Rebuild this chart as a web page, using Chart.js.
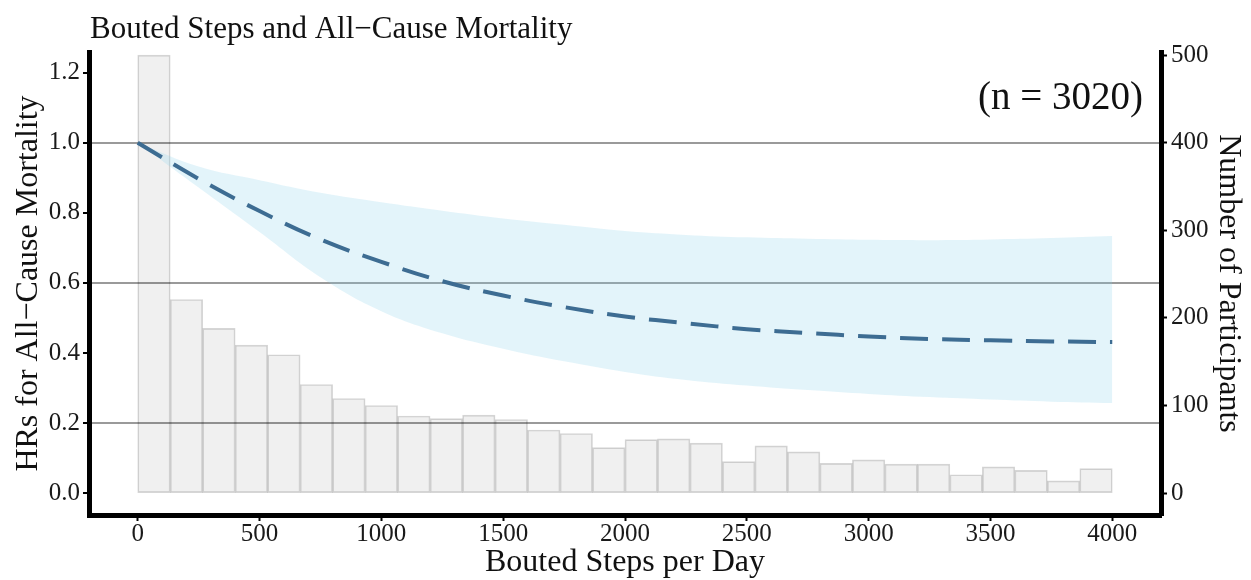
<!DOCTYPE html>
<html>
<head>
<meta charset="utf-8">
<script src="https://cdn.jsdelivr.net/npm/chart.js@4.4.1/dist/chart.umd.min.js"></script>
<style>
  html, body { margin: 0; padding: 0; background: #ffffff; }
  #wrap { width: 1251px; height: 580px; position: relative; }
</style>
</head>
<body>
<div id="wrap"><canvas id="chart"></canvas></div>
<script>
// Spline fit: hazard ratio with 95% CI by bouted steps per day
const steps    = [0, 250, 500, 750, 1000, 1250, 1500, 1750, 2000, 2250, 2500, 2750, 3000, 3250, 3500, 3750, 4000];
const hrFit    = [1.000, 0.897, 0.805, 0.724, 0.660, 0.605, 0.564, 0.531, 0.504, 0.485, 0.468, 0.457, 0.447, 0.440, 0.436, 0.433, 0.431];
const hrUpper  = [1.000, 0.932, 0.893, 0.857, 0.830, 0.806, 0.784, 0.766, 0.748, 0.737, 0.730, 0.726, 0.723, 0.722, 0.724, 0.728, 0.734];
const hrLower  = [1.000, 0.872, 0.745, 0.616, 0.519, 0.456, 0.412, 0.376, 0.346, 0.323, 0.307, 0.294, 0.283, 0.274, 0.267, 0.261, 0.257];

// Histogram of participants: 30 equal bins over 0–4000 steps/day
const histStart = 0;
const histEnd = 4000;
const binCounts = [500, 221, 188, 169, 158, 124, 108, 100, 88, 85, 89, 84,
                   72, 68, 52, 61, 62, 57, 36, 54, 47, 34, 38, 33, 33, 21, 30, 26, 14, 28];

// Axis ticks and labels
const stepTicks = [0, 500, 1000, 1500, 2000, 2500, 3000, 3500, 4000];
const hrTicks = [0, 0.2, 0.4, 0.6, 0.8, 1.0, 1.2];
const hrTickLabels = ['0.0', '0.2', '0.4', '0.6', '0.8', '1.0', '1.2'];
const hrGridValues = [0.2, 0.6, 1.0];
const countTicks = [0, 100, 200, 300, 400, 500];

const chartTitle = 'Bouted Steps and All\u2212Cause Mortality';
const sampleNote = '(n = 3020)';
const xTitle = 'Bouted Steps per Day';
const yTitle = 'HRs for All\u2212Cause Mortality';
const y2Title = 'Number of Participants';

const serif = "'Liberation Serif', 'Times New Roman', serif";

const binWidth = (histEnd - histStart) / binCounts.length;
const histPoints = binCounts.map((c, i) => ({ x: histStart + binWidth * (i + 0.5), y: c }));
const toXY = arr => steps.map((s, i) => ({ x: s, y: arr[i] }));

// Chart heading and sample-size note drawn above the plot
const headerText = {
  id: 'headerText',
  afterDraw(chart) {
    const { ctx, chartArea } = chart;
    ctx.save();
    ctx.fillStyle = '#111111';
    ctx.textBaseline = 'alphabetic';
    ctx.textAlign = 'left';
    ctx.font = '31px ' + serif;
    ctx.fillText(chartTitle, chartArea.left + 1, 38);
    ctx.textAlign = 'right';
    ctx.font = '39px ' + serif;
    ctx.fillText(sampleNote, chartArea.right - 18, 109);
    ctx.restore();
  }
};

const setTicks = values => axis => { axis.ticks = values.map(v => ({ value: v })); };

new Chart(document.getElementById('chart'), {
  data: {
    datasets: [
      {
        type: 'line',
        label: 'HR',
        data: toXY(hrFit),
        yAxisID: 'y',
        borderColor: '#3d6c92',
        borderWidth: 4,
        borderDash: [28, 14],
        borderCapStyle: 'butt',
        pointRadius: 0,
        tension: 0.4,
        fill: false,
        order: 0
      },
      {
        type: 'line',
        label: 'Upper 95% CI',
        data: toXY(hrUpper),
        yAxisID: 'y',
        borderWidth: 0,
        borderColor: 'rgba(0,0,0,0)',
        backgroundColor: 'rgba(135, 206, 235, 0.23)',
        pointRadius: 0,
        tension: 0.4,
        fill: '+1',
        order: 1
      },
      {
        type: 'line',
        label: 'Lower 95% CI',
        data: toXY(hrLower),
        yAxisID: 'y',
        borderWidth: 0,
        borderColor: 'rgba(0,0,0,0)',
        pointRadius: 0,
        tension: 0.4,
        fill: false,
        order: 2
      },
      {
        type: 'bar',
        label: 'Participants',
        data: histPoints,
        yAxisID: 'y2',
        backgroundColor: 'rgba(0, 0, 0, 0.06)',
        borderColor: 'rgba(0, 0, 0, 0.16)',
        borderWidth: 1,
        borderSkipped: false,
        barPercentage: 1,
        categoryPercentage: 1,
        order: 3
      }
    ]
  },
  options: {
    responsive: true,
    maintainAspectRatio: false,
    animation: false,
    events: [],
    layout: { padding: { top: 52, left: 0, right: 0, bottom: 0 } },
    plugins: {
      legend: { display: false },
      tooltip: { enabled: false },
      title: { display: false }
    },
    scales: {
      x: {
        type: 'linear',
        position: 'bottom',
        offset: false,
        min: -200,
        max: 4200,
        afterBuildTicks: setTicks(stepTicks),
        afterFit: s => { s.height = 65; },
        border: { display: true, color: '#000000', width: 5 },
        grid: { offset: false, drawOnChartArea: false, drawTicks: true, tickLength: 6, tickWidth: 2, tickColor: '#000000' },
        ticks: {
          autoSkip: false, maxRotation: 0, padding: -2,
          color: '#1a1a1a',
          font: { family: serif, size: 25 },
          callback: v => String(v)
        },
        title: {
          display: true, text: xTitle, color: '#111111',
          font: { family: serif, size: 32, lineHeight: 1.1 },
          padding: { top: 0, bottom: 0 }
        }
      },
      y: {
        type: 'linear',
        position: 'left',
        min: -0.0625,
        max: 1.259,
        afterBuildTicks: setTicks(hrTicks),
        afterFit: s => { s.width = 89; },
        border: { display: true, color: '#000000', width: 5 },
        grid: {
          drawOnChartArea: true,
          drawTicks: true,
          tickLength: 6,
          tickWidth: 2,
          tickColor: '#000000',
          lineWidth: 2,
          color: ctx => (ctx.tick && hrGridValues.some(g => Math.abs(g - ctx.tick.value) < 1e-9)) ? '#9a9a9a' : 'rgba(0,0,0,0)'
        },
        ticks: {
          autoSkip: false, padding: 3,
          color: '#1a1a1a',
          font: { family: serif, size: 25 },
          callback: (v, i) => hrTickLabels[i]
        },
        title: {
          display: true, text: yTitle, color: '#111111',
          font: { family: serif, size: 32, lineHeight: 1.1 },
          padding: { top: 11, bottom: 0 }
        }
      },
      y2: {
        type: 'linear',
        position: 'right',
        min: -25,
        max: 503.6,
        afterBuildTicks: setTicks(countTicks),
        afterFit: s => { s.width = 90; },
        border: { display: true, color: '#000000', width: 5 },
        grid: { drawOnChartArea: false, drawTicks: true, tickLength: 6, tickWidth: 2, tickColor: '#000000' },
        ticks: {
          autoSkip: false, padding: 4,
          color: '#1a1a1a',
          font: { family: serif, size: 25 },
          callback: v => String(v)
        },
        title: {
          display: true, text: y2Title, color: '#111111',
          font: { family: serif, size: 32, lineHeight: 1.1 },
          padding: { top: 5, bottom: 0 }
        }
      }
    }
  },
  plugins: [headerText]
});
</script>
</body>
</html>
